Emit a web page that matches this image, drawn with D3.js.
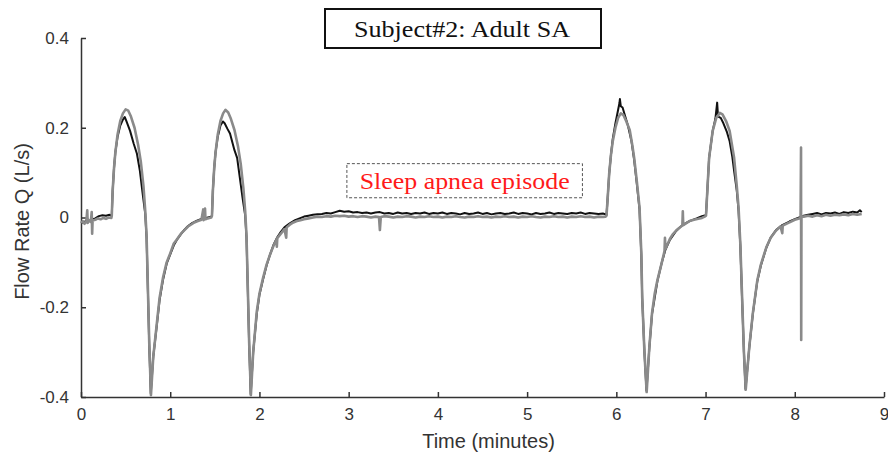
<!DOCTYPE html>
<meta charset="utf-8">
<script src="https://d3js.org/d3.v7.min.js"></script>
<style>
    body { margin: 0; background: #fff; }
    .tick text { font-family: "Liberation Sans", Arial, sans-serif; font-size: 17px; fill: #333; }
    .axis path, .axis line { stroke: #333; stroke-width: 1.5; }
    .measured { fill: none; stroke: #111; stroke-width: 2; stroke-linejoin: round; }
    .model { fill: none; stroke: #8a8a8a; stroke-width: 2.6; stroke-linejoin: round; }
    .lab { font-family: "Liberation Sans", Arial, sans-serif; font-size: 20px; fill: #333; }
</style>
<div id="chart"></div>
<script>
// time (minutes), flow rate Q (L/s) — measured signal (black)
const measured = [
  [0.00,-0.010],[0.03,-0.012],[0.06,-0.006],[0.10,-0.008],[0.13,-0.004],[0.16,-0.002],[0.20,0.003],[0.24,0.005],[0.28,0.004],[0.32,0.006],[0.34,0.004],
  [0.345,0.006],[0.355,0.06],[0.37,0.11],[0.385,0.145],[0.41,0.18],[0.44,0.205],[0.47,0.218],[0.49,0.224],[0.51,0.214],[0.55,0.193],[0.59,0.165],[0.627,0.142],[0.66,0.104],[0.69,0.055],[0.72,0.008],[0.735,-0.045],[0.75,-0.165],[0.765,-0.285],[0.782,-0.392],
  [0.81,-0.31],[0.85,-0.24],[0.88,-0.185],[0.92,-0.138],[0.96,-0.103],[1.00,-0.082],[1.04,-0.062],[1.08,-0.048],[1.12,-0.037],[1.16,-0.027],[1.20,-0.019],[1.25,-0.012],[1.30,-0.007],[1.35,-0.003],[1.40,-0.001],[1.46,0.002],
  [1.468,0.005],[1.478,0.06],[1.493,0.11],[1.508,0.145],[1.533,0.18],[1.563,0.205],[1.59,0.214],[1.61,0.21],[1.64,0.198],[1.67,0.187],[1.72,0.15],[1.75,0.133],[1.78,0.089],[1.81,0.045],[1.84,0.005],[1.855,-0.045],[1.87,-0.165],[1.885,-0.285],[1.902,-0.394],
  [1.93,-0.30],[1.97,-0.215],[2.00,-0.172],[2.04,-0.138],[2.08,-0.107],[2.12,-0.082],[2.16,-0.06],[2.20,-0.044],[2.24,-0.032],[2.28,-0.022],[2.34,-0.013],[2.40,-0.006],[2.45,-0.002],[2.50,0.002],[2.55,0.004],[2.60,0.006],
  [2.65,0.007],[2.70,0.008],[2.75,0.010],[2.80,0.009],[2.85,0.012],[2.90,0.015],[2.95,0.013],[3.00,0.014],[3.05,0.011],[3.10,0.012],[3.15,0.010],[3.20,0.011],[3.25,0.009],[3.30,0.011],[3.35,0.012],[3.40,0.009],
  [3.45,0.010],[3.50,0.008],[3.55,0.011],[3.60,0.009],[3.65,0.010],[3.70,0.008],[3.75,0.010],[3.80,0.009],[3.85,0.011],[3.90,0.008],[3.95,0.010],[4.00,0.009],[4.05,0.011],[4.10,0.008],[4.15,0.010],[4.20,0.009],
  [4.25,0.007],[4.30,0.010],[4.35,0.008],[4.40,0.009],[4.45,0.011],[4.50,0.008],[4.55,0.010],[4.60,0.007],[4.65,0.009],[4.70,0.010],[4.75,0.008],[4.80,0.009],[4.85,0.011],[4.90,0.008],[4.95,0.010],[5.00,0.009],
  [5.05,0.007],[5.10,0.010],[5.15,0.008],[5.20,0.009],[5.25,0.011],[5.30,0.008],[5.35,0.010],[5.40,0.009],[5.45,0.008],[5.50,0.010],[5.55,0.009],[5.60,0.011],[5.65,0.008],[5.70,0.010],[5.75,0.009],[5.80,0.008],[5.85,0.009],[5.88,0.007],
  [5.89,0.006],[5.905,0.05],[5.92,0.098],[5.94,0.14],[5.96,0.175],[5.99,0.21],[6.02,0.24],[6.035,0.255],[6.04,0.264],[6.05,0.248],[6.07,0.245],[6.10,0.225],[6.13,0.205],[6.17,0.17],[6.20,0.128],[6.23,0.075],[6.26,0.018],[6.28,-0.085],[6.29,-0.18],[6.315,-0.30],[6.338,-0.386],
  [6.37,-0.29],[6.40,-0.215],[6.46,-0.142],[6.51,-0.10],[6.55,-0.072],[6.60,-0.05],[6.67,-0.03],[6.74,-0.017],[6.82,-0.008],[6.90,-0.002],[6.96,0.003],[7.00,0.005],
  [7.005,0.006],[7.02,0.06],[7.04,0.133],[7.08,0.193],[7.11,0.22],[7.13,0.256],[7.14,0.225],[7.17,0.222],[7.20,0.21],[7.24,0.19],[7.27,0.17],[7.30,0.135],[7.32,0.104],[7.35,0.06],[7.37,0.015],[7.39,-0.065],[7.41,-0.185],[7.43,-0.30],[7.448,-0.382],
  [7.49,-0.29],[7.53,-0.215],[7.58,-0.142],[7.62,-0.107],[7.68,-0.068],[7.73,-0.045],[7.79,-0.028],[7.86,-0.017],[7.94,-0.009],[8.00,-0.004],[8.05,0.000],[8.10,0.004],
  [8.15,0.006],[8.20,0.008],[8.25,0.010],[8.30,0.007],[8.35,0.010],[8.40,0.009],[8.45,0.011],[8.50,0.008],[8.55,0.012],[8.60,0.010],[8.65,0.013],[8.70,0.011],[8.73,0.016],[8.75,0.012]
];

// time (minutes), flow rate Q (L/s) — model signal (grey)
const model = [
  [0.00,-0.012],[0.02,-0.008],[0.04,-0.014],[0.06,-0.009],[0.07,0.016],[0.075,-0.012],[0.09,-0.006],[0.11,-0.010],[0.12,0.012],[0.125,-0.036],[0.13,-0.007],[0.16,-0.005],[0.19,-0.002],[0.22,-0.004],[0.25,-0.001],[0.28,-0.003],[0.31,0.000],[0.34,-0.001],
  [0.345,0.004],[0.355,0.06],[0.37,0.11],[0.385,0.145],[0.41,0.185],[0.44,0.215],[0.47,0.232],[0.50,0.241],[0.53,0.238],[0.56,0.225],[0.60,0.200],[0.64,0.162],[0.67,0.125],[0.70,0.070],[0.72,0.015],[0.735,-0.04],[0.75,-0.16],[0.765,-0.28],[0.784,-0.396],
  [0.81,-0.31],[0.85,-0.236],[0.88,-0.18],[0.92,-0.133],[0.96,-0.10],[1.00,-0.08],[1.04,-0.058],[1.07,-0.05],[1.12,-0.036],[1.16,-0.028],[1.20,-0.020],[1.24,-0.015],[1.27,-0.011],[1.31,-0.008],[1.35,-0.005],[1.37,0.018],[1.375,-0.006],[1.39,0.020],[1.395,-0.004],[1.42,-0.002],[1.46,0.000],
  [1.468,0.004],[1.478,0.06],[1.493,0.11],[1.508,0.145],[1.533,0.185],[1.563,0.215],[1.593,0.232],[1.62,0.240],[1.65,0.234],[1.68,0.22],[1.72,0.195],[1.76,0.158],[1.79,0.12],[1.82,0.065],[1.84,0.015],[1.855,-0.04],[1.87,-0.16],[1.885,-0.28],[1.904,-0.396],
  [1.93,-0.30],[1.97,-0.21],[2.00,-0.17],[2.04,-0.135],[2.08,-0.105],[2.12,-0.082],[2.16,-0.062],[2.19,-0.05],[2.195,-0.065],[2.20,-0.046],[2.24,-0.036],[2.28,-0.026],[2.30,-0.045],[2.305,-0.022],[2.34,-0.016],[2.38,-0.011],[2.42,-0.008],[2.46,-0.006],[2.50,-0.004],[2.55,-0.002],[2.60,0.000],
  [2.65,0.002],[2.70,0.001],[2.75,0.003],[2.80,0.002],[2.85,0.004],[2.90,0.003],[2.95,0.004],[3.00,0.002],[3.05,0.003],[3.10,0.001],[3.15,0.003],[3.20,0.002],[3.25,0.000],[3.30,0.002],[3.34,0.001],[3.35,-0.028],[3.36,0.001],
  [3.40,0.003],[3.45,0.002],[3.50,0.000],[3.55,0.002],[3.60,0.001],[3.65,0.003],[3.70,0.002],[3.75,0.000],[3.80,0.002],[3.85,0.001],[3.90,0.003],[3.95,0.001],[4.00,0.002],[4.05,0.000],[4.10,0.002],[4.15,0.001],
  [4.20,0.003],[4.25,0.001],[4.30,0.000],[4.35,0.002],[4.40,0.001],[4.45,0.003],[4.50,0.001],[4.55,0.002],[4.60,0.000],[4.65,0.002],[4.70,0.001],[4.75,0.003],[4.80,0.001],[4.85,0.002],[4.90,0.000],[4.95,0.002],
  [5.00,0.001],[5.05,0.003],[5.10,0.001],[5.15,0.000],[5.20,0.002],[5.25,0.001],[5.30,0.003],[5.35,0.001],[5.40,0.002],[5.45,0.000],[5.50,0.002],[5.55,0.001],[5.60,0.003],[5.65,0.001],[5.70,0.002],[5.75,0.000],[5.80,0.002],[5.85,0.001],[5.88,0.002],
  [5.89,0.004],[5.905,0.05],[5.92,0.098],[5.94,0.14],[5.96,0.17],[5.99,0.20],[6.02,0.222],[6.05,0.232],[6.08,0.228],[6.11,0.215],[6.15,0.195],[6.18,0.16],[6.20,0.133],[6.23,0.08],[6.26,0.022],[6.28,-0.08],[6.29,-0.178],[6.315,-0.30],[6.34,-0.389],
  [6.37,-0.289],[6.40,-0.213],[6.43,-0.17],[6.46,-0.14],[6.51,-0.10],[6.54,-0.075],[6.545,-0.045],[6.55,-0.07],[6.60,-0.048],[6.63,-0.038],[6.67,-0.029],[6.70,-0.024],[6.74,-0.018],[6.745,0.014],[6.75,-0.017],[6.78,-0.013],[6.82,-0.008],[6.87,-0.005],[6.92,-0.003],[6.96,-0.001],[6.99,0.002],
  [7.005,0.004],[7.02,0.06],[7.04,0.133],[7.08,0.193],[7.12,0.222],[7.16,0.233],[7.19,0.230],[7.23,0.215],[7.27,0.193],[7.32,0.133],[7.35,0.07],[7.37,0.022],[7.39,-0.06],[7.41,-0.18],[7.43,-0.30],[7.45,-0.384],
  [7.49,-0.289],[7.53,-0.213],[7.58,-0.14],[7.62,-0.105],[7.68,-0.067],[7.73,-0.045],[7.79,-0.029],[7.84,-0.02],[7.86,-0.035],[7.865,-0.018],[7.94,-0.011],[8.00,-0.005],[8.05,-0.002],
  [8.065,-0.002],[8.07,0.156],[8.072,-0.273],[8.075,0.002],
  [8.10,0.002],[8.15,0.004],[8.20,0.002],[8.25,0.005],[8.30,0.003],[8.35,0.006],[8.40,0.004],[8.45,0.006],[8.50,0.005],[8.55,0.007],[8.60,0.005],[8.65,0.008],[8.70,0.006],[8.75,0.008]
];

const xTicks = [0, 1, 2, 3, 4, 5, 6, 7, 8, 9];
const yTicks = [-0.4, -0.2, 0, 0.2, 0.4];
const titleText = "Subject#2: Adult SA";
const noteText = "Sleep apnea episode";
const noteBox = [[2.98, 0.12], [5.62, 0.044]];   // data-space corners of the dashed note

const W = 888, H = 463;
const margin = {top: 38, right: 4, bottom: 66, left: 81},
    width = W - margin.left - margin.right,
    height = H - margin.top - margin.bottom;

const svg = d3.select("#chart").append("svg")
    .attr("width", W).attr("height", H);

const g = svg.append("g")
    .attr("transform", "translate(" + margin.left + "," + margin.top + ")");

const x = d3.scaleLinear().domain([0, 9]).range([0, width]);
const y = d3.scaleLinear().domain([-0.4, 0.4]).range([height, 0]);

const fmtY = d => d === 0 ? "0" : d3.format(".1f")(d).replace("\u2212", "-");

g.append("g").attr("class", "axis")
    .attr("transform", "translate(0," + height + ")")
    .call(d3.axisBottom(x).tickValues(xTicks).tickSize(-5).tickPadding(11).tickSizeOuter(0).tickFormat(d3.format("d")));

g.append("g").attr("class", "axis")
    .call(d3.axisLeft(y).tickValues(yTicks).tickSize(-5).tickPadding(12).tickSizeOuter(0).tickFormat(fmtY));

const line = d3.line().x(d => x(d[0])).y(d => y(d[1]));

g.append("path").datum(measured).attr("class", "measured").attr("d", line);
g.append("path").datum(model).attr("class", "model").attr("d", line);

// axis titles
svg.append("text").attr("class", "lab")
    .attr("x", margin.left + width / 2 + 6).attr("y", H - 15)
    .attr("text-anchor", "middle").text("Time (minutes)");

svg.append("text").attr("class", "lab")
    .attr("transform", "translate(29," + (margin.top + height / 2 + 4) + ") rotate(-90)")
    .attr("text-anchor", "middle").text("Flow Rate Q (L/s)");

// title box
svg.append("rect").attr("x", 325).attr("y", 9).attr("width", 276).attr("height", 39)
    .attr("fill", "#fff").attr("stroke", "#111").attr("stroke-width", 2);
svg.append("text").attr("x", 462).attr("y", 37).attr("text-anchor", "middle")
    .attr("textLength", 216).attr("lengthAdjust", "spacingAndGlyphs")
    .style("font-family", "'Liberation Serif', 'Times New Roman', serif").style("font-size", "24px")
    .attr("fill", "#111").text(titleText);

// dashed note
g.append("rect")
    .attr("x", x(noteBox[0][0])).attr("y", y(noteBox[0][1]))
    .attr("width", x(noteBox[1][0]) - x(noteBox[0][0]))
    .attr("height", y(noteBox[1][1]) - y(noteBox[0][1]))
    .attr("fill", "#fff").attr("stroke", "#555").attr("stroke-width", 1).attr("stroke-dasharray", "3,2");
g.append("text")
    .attr("x", (x(noteBox[0][0]) + x(noteBox[1][0])) / 2)
    .attr("y", (y(noteBox[0][1]) + y(noteBox[1][1])) / 2 + 8)
    .attr("text-anchor", "middle")
    .attr("textLength", 210).attr("lengthAdjust", "spacingAndGlyphs")
    .style("font-family", "'Liberation Serif', 'Times New Roman', serif").style("font-size", "24px")
    .attr("fill", "#ff1a1a").text(noteText);
</script>
